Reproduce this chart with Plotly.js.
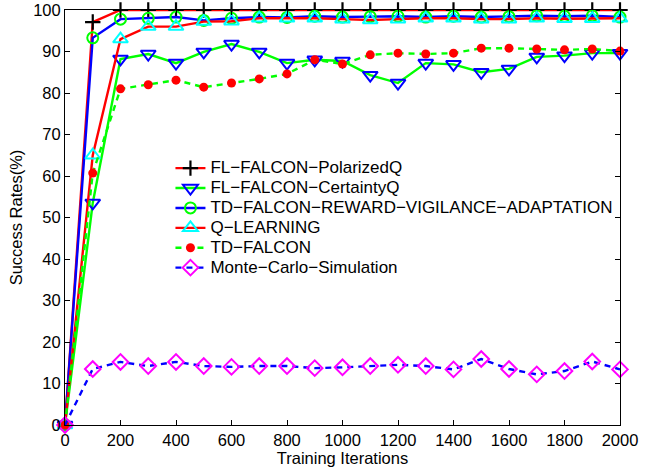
<!DOCTYPE html>
<html>
<head>
<meta charset="utf-8">
<script src="https://cdn.plot.ly/plotly-3.0.1.min.js"></script>
<style>html,body{margin:0;padding:0;background:#fff;}#chart{width:657px;height:467px;}</style>
</head>
<body>
<div id="chart"></div>
<script>
const iterations = [0,100,200,300,400,500,600,700,800,900,1000,1100,1200,1300,1400,1500,1600,1700,1800,1900,2000];
const polarizedQ = [0,97.1,100,100,100,100,100,100,100,100,100,100,100,100,100,100,100,100,100,100,100];
const certaintyQ = [0,53.5,88.2,89.4,87.2,89.9,91.8,89.9,87.2,88,87.7,84.3,82.4,87.2,86.9,85,85.8,88.7,89,89.6,89.6];
const tdFalconRVA = [0,93.3,97.8,98,98.3,97.5,98,98.3,98.2,98.5,98.3,98.4,98.5,98.3,98.5,98.3,98.4,98.6,98.5,98.6,98.3];
const qLearning = [0,65,93,96,96,97.2,97.3,98,98,98,97.8,97.6,97.8,98,98,97.8,97.8,98,97.9,97.9,98];
const tdFalcon = [0,60.7,81,82,83.1,81.4,82.4,83.4,84.6,88,87,89.2,89.6,89.4,89.6,90.8,90.8,90.6,90.4,90.6,90.1];
const monteCarlo = [0,13.5,15.2,14.2,15.2,14.2,14,14.2,14.2,13.7,13.9,14.2,14.5,14.2,13.4,15.9,13.5,12.2,13,15.3,13.4];
const seriesNames = ["FL\u2212FALCON\u2212PolarizedQ","FL\u2212FALCON\u2212CertaintyQ","TD\u2212FALCON\u2212REWARD\u2212VIGILANCE\u2212ADAPTATION","Q\u2212LEARNING","TD\u2212FALCON","Monte\u2212Carlo\u2212Simulation"];
const xTicks = [0,200,400,600,800,1000,1200,1400,1600,1800,2000];
const yTicks = [0,10,20,30,40,50,60,70,80,90,100];

const lbl = s => '<span style="font-size:17px">' + s + '</span>';
const lw = 2.4;
const traces = [
  {y: polarizedQ, name: seriesNames[0], line:{color:'#ff0000', width:lw},
   marker:{symbol:'cross-thin-open', size:11, color:'#000', line:{color:'#000', width:2.2}}},
  {y: certaintyQ, name: seriesNames[1], line:{color:'#00ff00', width:lw},
   marker:{symbol:'triangle-down-open', size:13, color:'#0000ff', line:{color:'#0000ff', width:2}}},
  {y: tdFalconRVA, name: seriesNames[2], line:{color:'#0000ff', width:lw},
   marker:{symbol:'circle-open', size:11, color:'#00ff00', line:{color:'#00ff00', width:2}}},
  {y: qLearning, name: seriesNames[3], line:{color:'#ff0000', width:lw},
   marker:{symbol:'triangle-up-open', size:13, color:'#00ffff', line:{color:'#00ffff', width:2}}},
  {y: tdFalcon, name: seriesNames[4], line:{color:'#00ff00', width:lw, dash:'6px,5px'},
   marker:{symbol:'circle', size:9, color:'#ff0000', line:{width:0}}},
  {y: monteCarlo, name: seriesNames[5], line:{color:'#0000ff', width:lw, dash:'6px,5px'},
   marker:{symbol:'diamond-open', size:12, color:'#ff00ff', line:{color:'#ff00ff', width:2}}}
].map(t => Object.assign({x: iterations, type:'scatter', mode:'lines+markers', cliponaxis:false}, t, {name: lbl(t.name)}));

const tickFont = {family:'"Liberation Sans", Arial, sans-serif', size:16.5, color:'#000'};
const titleFont = {family:'"Liberation Sans", Arial, sans-serif', size:16.5, color:'#000'};
const layout = {
  width:657, height:467,
  margin:{l:65, r:37, t:10, b:42},
  paper_bgcolor:'#fff', plot_bgcolor:'#fff',
  font: tickFont,
  showlegend:true,
  legend:{x:0.19, y:0.655, xanchor:'left', yanchor:'top', bgcolor:'rgba(255,255,255,0)',
    font:{family:'"Liberation Sans", Arial, sans-serif', size:13, color:'#000'}},
  xaxis:{range:[0,2000], tickvals:xTicks, ticks:'inside', ticklen:5, tickcolor:'#000',
    showline:true, linecolor:'#000', linewidth:1, mirror:'ticks', showgrid:false, zeroline:false,
    tickfont:tickFont, title:{text:'Training Iterations', font:titleFont, standoff:5}},
  yaxis:{range:[0,100], tickvals:yTicks, ticks:'inside', ticklen:5, tickcolor:'#000',
    showline:true, linecolor:'#000', linewidth:1, mirror:'ticks', showgrid:false, zeroline:false,
    tickfont:tickFont, title:{text:'Success Rates(%)', font:titleFont, standoff:6}}
};
Plotly.newPlot('chart', traces, layout, {displayModeBar:false, staticPlot:true});
</script>
</body>
</html>
